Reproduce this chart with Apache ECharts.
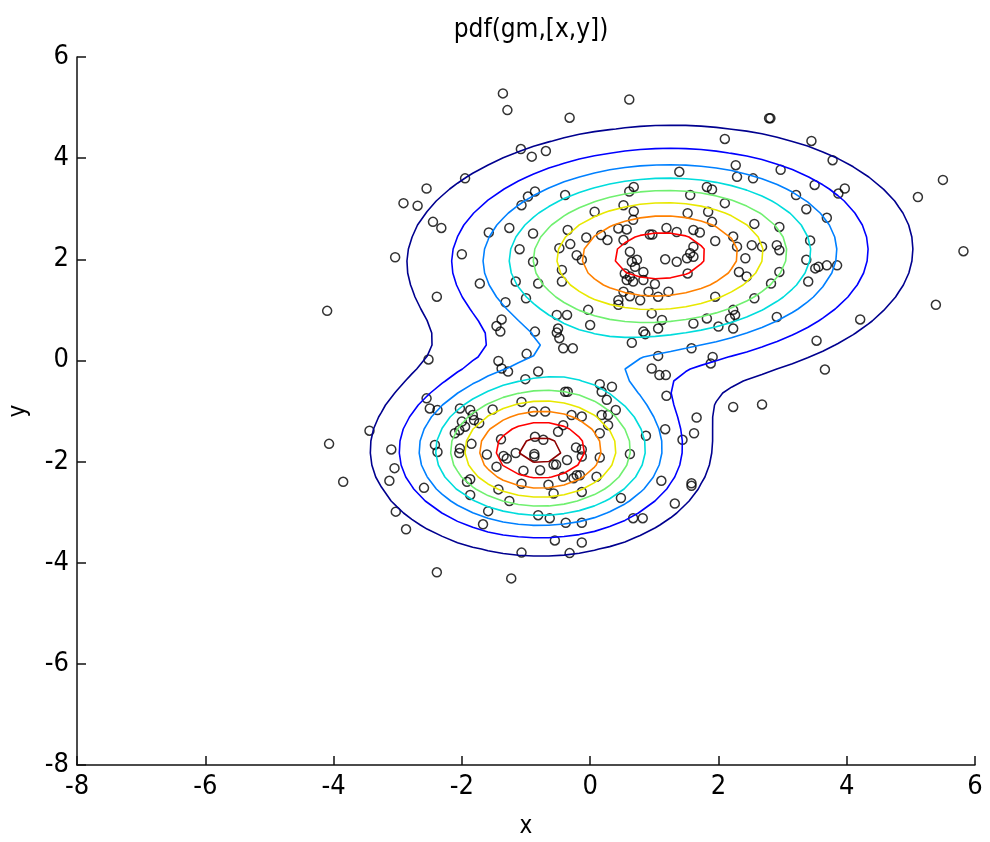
<!DOCTYPE html>
<html>
<head>
<meta charset="utf-8">
<script src="https://cdn.jsdelivr.net/npm/echarts@6/dist/echarts.min.js"></script>
<style>
html,body{margin:0;padding:0;background:#fff;}
#chart{width:990px;height:842px;}
</style>
</head>
<body>
<div id="chart"></div>
<script>
// ---- data ----
const chartTitle = 'pdf(gm,[x,y])';
const axisRange = [-8, 6];
const tickStep = 2;

// scatter samples [x, y]
const samples = [
[-1.36,5.28],[-1.29,4.95],[-1.08,4.18],[-0.91,4.03],[-1.95,3.60],[-2.55,3.40],[-2.91,3.11],[-2.69,3.06],
[-2.45,2.74],[-2.32,2.62],[-1.58,2.53],[-1.26,2.62],[-0.89,2.51],[-1.07,3.07],[-0.86,3.34],[-0.97,3.24],
[-3.04,2.04],[-2.00,2.10],[-1.10,2.20],[-0.89,1.95],[-1.72,1.52],[-1.16,1.56],[-1.00,1.23],[-2.39,1.26],
[-1.32,1.15],[-4.10,0.98],[-1.38,0.81],[-1.46,0.68],[-1.40,0.57],
[0.61,5.16],[-0.32,4.80],[2.10,4.38],[-0.69,4.14],[1.39,3.73],[2.27,3.86],[2.29,3.63],[1.82,3.43],
[1.90,3.38],[0.68,3.43],[0.61,3.34],[1.56,3.27],[-0.39,3.27],[2.10,3.11],[0.52,3.07],[0.68,2.95],
[0.07,2.94],[1.52,2.91],[1.84,2.94],[1.90,2.74],[0.67,2.78],[-0.35,2.58],[-0.06,2.43],[0.17,2.48],
[0.27,2.38],[0.44,2.61],[0.57,2.59],[0.52,2.38],[0.93,2.49],[0.97,2.49],[1.19,2.62],[1.35,2.54],
[1.61,2.58],[1.71,2.53],[1.95,2.36],[2.23,2.45],[-0.31,2.30],[-0.48,2.22],[-0.21,2.08],[-0.13,1.99],
[0.62,2.15],[1.61,2.25],[1.56,2.12],[1.51,2.02],[1.61,2.05],[1.17,2.00],[1.35,1.95],[0.65,1.95],
[0.73,1.99],[0.70,1.85],[0.54,1.72],[0.62,1.66],[0.83,1.75],[1.52,1.72],[2.29,2.25],[2.42,2.02],
[-0.44,1.79],[-0.44,1.56],[0.57,1.59],[0.67,1.56],[0.83,1.59],[1.01,1.51],[-0.81,1.52],[2.32,1.75],
[2.44,1.66],[1.95,1.26],[0.52,1.36],[0.62,1.27],[0.78,1.19],[0.91,1.36],[1.06,1.26],[1.22,1.36],
[0.44,1.19],[0.44,1.10],[-0.03,1.00],[-0.52,0.90],[-0.36,0.90],[0.00,0.70],[0.96,0.93],[1.12,0.80],
[1.61,0.73],[1.82,0.83],[2.23,1.00],[2.26,0.90],[2.18,0.83],[2.00,0.67],[2.23,0.63],[-0.86,0.57],
[-0.50,0.63],[0.83,0.57],[1.06,0.63],
[2.79,4.79],[2.81,4.79],[3.45,4.34],[3.78,3.96],[2.97,3.77],[2.54,3.60],[3.50,3.47],[3.87,3.30],
[3.97,3.40],[3.21,3.27],[5.50,3.57],[5.11,3.23],[3.37,2.99],[3.69,2.82],[2.56,2.70],[2.95,2.64],
[3.43,2.37],[2.52,2.28],[2.68,2.25],[2.91,2.28],[2.95,2.18],[5.82,2.16],[3.37,1.99],[3.51,1.82],
[3.56,1.85],[3.69,1.88],[3.85,1.88],[2.95,1.75],[3.40,1.56],[2.82,1.52],[2.56,1.23],[5.39,1.10],
[2.91,0.86],[4.21,0.81],[3.53,0.39],[3.66,-0.18],[2.68,-0.87],
[-2.52,0.02],[-1.43,-0.01],[-1.38,-0.16],[-1.28,-0.22],[-0.99,0.13],[-1.01,-0.37],[-2.55,-0.75],
[-2.50,-0.95],[-2.38,-0.98],[-2.03,-0.95],[-1.87,-0.98],[-1.83,-1.08],[-1.73,-1.24],[-1.81,-1.18],
[-1.52,-0.97],[-1.07,-0.82],[-2.11,-1.44],[-2.04,-1.38],[-1.95,-1.31],[-2.00,-1.21],[-3.44,-1.39],
[-4.07,-1.65],[-2.42,-1.67],[-2.38,-1.81],[-2.03,-1.74],[-2.04,-1.83],[-1.85,-1.65],[-1.39,-1.56],
[-1.61,-1.86],[-1.35,-1.89],[-1.30,-1.94],[-1.16,-1.83],[-1.46,-2.10],[-1.04,-2.18],[-3.10,-1.76],
[-3.05,-2.13],[-3.13,-2.38],[-3.85,-2.40],[-1.92,-2.40],[-1.87,-2.35],[-2.59,-2.52],[-1.87,-2.66],
[-1.43,-2.55],[-1.07,-2.44],[-1.26,-2.78],[-1.59,-2.98],[-3.03,-2.99],[-1.67,-3.24],[-2.87,-3.34],
[-1.07,-3.80],[-2.39,-4.19],[-1.23,-4.31],
[-0.52,0.55],[-0.48,0.44],[-0.42,0.24],[-0.27,0.24],[0.65,0.35],[0.86,0.52],[1.58,0.24],[1.91,0.07],
[1.88,-0.06],[1.06,0.09],[-0.81,-0.22],[0.96,-0.16],[1.08,-0.29],[1.18,-0.29],[-0.39,-0.62],[-0.35,-0.62],
[0.15,-0.47],[0.34,-0.52],[0.18,-0.62],[0.26,-0.78],[1.19,-0.70],[2.23,-0.92],[-0.89,-1.01],[-0.70,-1.01],
[-0.29,-1.08],[-0.13,-1.11],[0.18,-1.08],[0.28,-1.08],[0.40,-0.98],[0.28,-1.28],[1.66,-1.13],[-0.42,-1.28],
[-0.50,-1.41],[-0.73,-1.57],[-0.86,-1.51],[0.15,-1.44],[1.62,-1.44],[1.44,-1.57],[1.17,-1.36],[0.87,-1.49],
[-0.22,-1.72],[-0.13,-1.90],[-0.13,-1.76],[-0.36,-1.97],[-0.87,-1.85],[-0.87,-1.90],[-0.57,-2.06],[-0.53,-2.06],
[-0.78,-2.17],[0.15,-1.92],[0.62,-1.85],[-0.42,-2.30],[-0.21,-2.27],[-0.16,-2.27],[-0.26,-2.33],[0.10,-2.30],
[1.11,-2.38],[1.58,-2.43],[1.58,-2.48],[-0.65,-2.46],[-0.57,-2.63],[-0.13,-2.60],[0.48,-2.72],[1.32,-2.83],
[-0.81,-3.06],[-0.63,-3.12],[-0.38,-3.21],[-0.13,-3.21],[0.67,-3.12],[0.82,-3.12],[-0.55,-3.56],[-0.13,-3.60],
[-0.32,-3.81]
];

// fitted mixture (estimated from the contour shapes)
const mixWeights = [0.635, 0.357];
const mixMeans = [[1.09, 2.07], [-0.78, -1.79]];
const mixSigmas = [[[3.61, 0.12], [0.12, 1.54]], [[1.56, 0.0], [0.0, 0.96]]];

// contour levels and their colours (jet)
const contourLevels = [0.005, 0.010, 0.015, 0.020, 0.025, 0.030, 0.035, 0.040, 0.045];
const levelColors = ['#00008f', '#0000ff', '#0080ff', '#00dcdc', '#70f070', '#e8e800', '#ff8000', '#ff0000', '#8f0000'];
const gridPoints = 60;

// ---- density and contouring ----
function gmPdf(x, y) {
  let s = 0;
  for (let k = 0; k < mixWeights.length; k++) {
    const dx = x - mixMeans[k][0], dy = y - mixMeans[k][1];
    const a = mixSigmas[k][0][0], b = mixSigmas[k][0][1], c = mixSigmas[k][1][1];
    const det = a * c - b * b;
    const q = (c * dx * dx - 2 * b * dx * dy + a * dy * dy) / det;
    s += mixWeights[k] * Math.exp(-q / 2) / (2 * Math.PI * Math.sqrt(det));
  }
  return s;
}

const gx = [], gy = [];
for (let i = 0; i < gridPoints; i++) {
  gx.push(axisRange[0] + (axisRange[1] - axisRange[0]) * i / (gridPoints - 1));
  gy.push(axisRange[0] + (axisRange[1] - axisRange[0]) * i / (gridPoints - 1));
}
const Z = [];
for (let i = 0; i < gridPoints; i++) {
  Z.push([]);
  for (let j = 0; j < gridPoints; j++) Z[i].push(gmPdf(gx[i], gy[j]));
}

function contourPaths(L) {
  const pts = {};
  const segs = [];
  function hKey(i, j) {
    const k = 'h' + i + ',' + j;
    if (!pts[k]) { const a = Z[i][j], b = Z[i + 1][j]; const t = (L - a) / (b - a); pts[k] = [gx[i] + t * (gx[i + 1] - gx[i]), gy[j]]; }
    return k;
  }
  function vKey(i, j) {
    const k = 'v' + i + ',' + j;
    if (!pts[k]) { const a = Z[i][j], b = Z[i][j + 1]; const t = (L - a) / (b - a); pts[k] = [gx[i], gy[j] + t * (gy[j + 1] - gy[j])]; }
    return k;
  }
  for (let i = 0; i < gridPoints - 1; i++) {
    for (let j = 0; j < gridPoints - 1; j++) {
      const v00 = Z[i][j], v10 = Z[i + 1][j], v11 = Z[i + 1][j + 1], v01 = Z[i][j + 1];
      const c = (v00 > L ? 1 : 0) | (v10 > L ? 2 : 0) | (v11 > L ? 4 : 0) | (v01 > L ? 8 : 0);
      if (c === 0 || c === 15) continue;
      const e0 = () => hKey(i, j), e1 = () => vKey(i + 1, j), e2 = () => hKey(i, j + 1), e3 = () => vKey(i, j);
      const center = (v00 + v10 + v11 + v01) / 4;
      switch (c) {
        case 1: case 14: segs.push([e0(), e3()]); break;
        case 2: case 13: segs.push([e0(), e1()]); break;
        case 4: case 11: segs.push([e1(), e2()]); break;
        case 8: case 7: segs.push([e2(), e3()]); break;
        case 3: case 12: segs.push([e1(), e3()]); break;
        case 6: case 9: segs.push([e0(), e2()]); break;
        case 5:
          if (center > L) { segs.push([e0(), e1()]); segs.push([e2(), e3()]); }
          else { segs.push([e0(), e3()]); segs.push([e1(), e2()]); }
          break;
        case 10:
          if (center > L) { segs.push([e0(), e3()]); segs.push([e1(), e2()]); }
          else { segs.push([e0(), e1()]); segs.push([e2(), e3()]); }
          break;
      }
    }
  }
  const adj = {};
  segs.forEach((s, idx) => { (adj[s[0]] = adj[s[0]] || []).push(idx); (adj[s[1]] = adj[s[1]] || []).push(idx); });
  const used = new Array(segs.length).fill(false);
  const paths = [];
  function extend(path) {
    while (true) {
      const last = path[path.length - 1];
      const cand = (adj[last] || []).find(ix => !used[ix]);
      if (cand === undefined) break;
      used[cand] = true;
      const s = segs[cand];
      path.push(s[0] === last ? s[1] : s[0]);
    }
  }
  for (let s = 0; s < segs.length; s++) {
    if (used[s]) continue;
    used[s] = true;
    let path = [segs[s][0], segs[s][1]];
    extend(path);
    path.reverse();
    extend(path);
    paths.push(path.map(k => pts[k]));
  }
  return paths;
}

const contourSeries = [];
contourLevels.forEach((L, li) => {
  contourPaths(L).forEach(p => {
    contourSeries.push({
      type: 'line', data: p, showSymbol: false, symbol: 'none', smooth: false,
      lineStyle: { color: levelColors[li], width: 1.6 }, z: 3, silent: true, animation: false
    });
  });
});

const fontFam = "'Liberation Sans Narrow', 'DejaVu Sans Condensed', 'Liberation Sans', sans-serif";

const chart = echarts.init(document.getElementById('chart'));
chart.setOption({
  backgroundColor: '#ffffff',
  animation: false,
  title: {
    text: chartTitle, left: 526, top: 12, textAlign: 'center',
    textStyle: { fontFamily: fontFam, fontSize: 26, fontWeight: 'normal', color: '#000' }
  },
  grid: { left: 77, right: 15, top: 57, bottom: 77, containLabel: false, outerBoundsMode: 'none' },
  xAxis: {
    type: 'value', min: axisRange[0], max: axisRange[1], interval: tickStep,
    name: 'x', nameLocation: 'middle', nameGap: 50,
    nameTextStyle: { fontFamily: fontFam, fontSize: 24, color: '#000' },
    axisLine: { show: true, onZero: false, lineStyle: { color: '#111', width: 1.5 } },
    axisTick: { show: true, inside: true, length: 9, lineStyle: { color: '#111', width: 1.5 } },
    axisLabel: { fontFamily: fontFam, fontSize: 27, color: '#000', margin: 8 },
    splitLine: { show: false }
  },
  yAxis: {
    type: 'value', min: axisRange[0], max: axisRange[1], interval: tickStep,
    name: 'y', nameLocation: 'middle', nameGap: 46, nameRotate: 90,
    nameTextStyle: { fontFamily: fontFam, fontSize: 24, color: '#000' },
    axisLine: { show: true, onZero: false, lineStyle: { color: '#111', width: 1.5 } },
    axisTick: { show: true, inside: true, length: 9, lineStyle: { color: '#111', width: 1.5 } },
    axisLabel: { fontFamily: fontFam, fontSize: 27, color: '#000', margin: 8 },
    splitLine: { show: false }
  },
  series: [{
    type: 'scatter', data: samples, symbol: 'circle', symbolSize: 9, z: 2,
    itemStyle: { color: 'rgba(0,0,0,0)', borderColor: '#000', borderWidth: 1.5 },
    silent: true, animation: false
  }].concat(contourSeries)
});
</script>
</body>
</html>
